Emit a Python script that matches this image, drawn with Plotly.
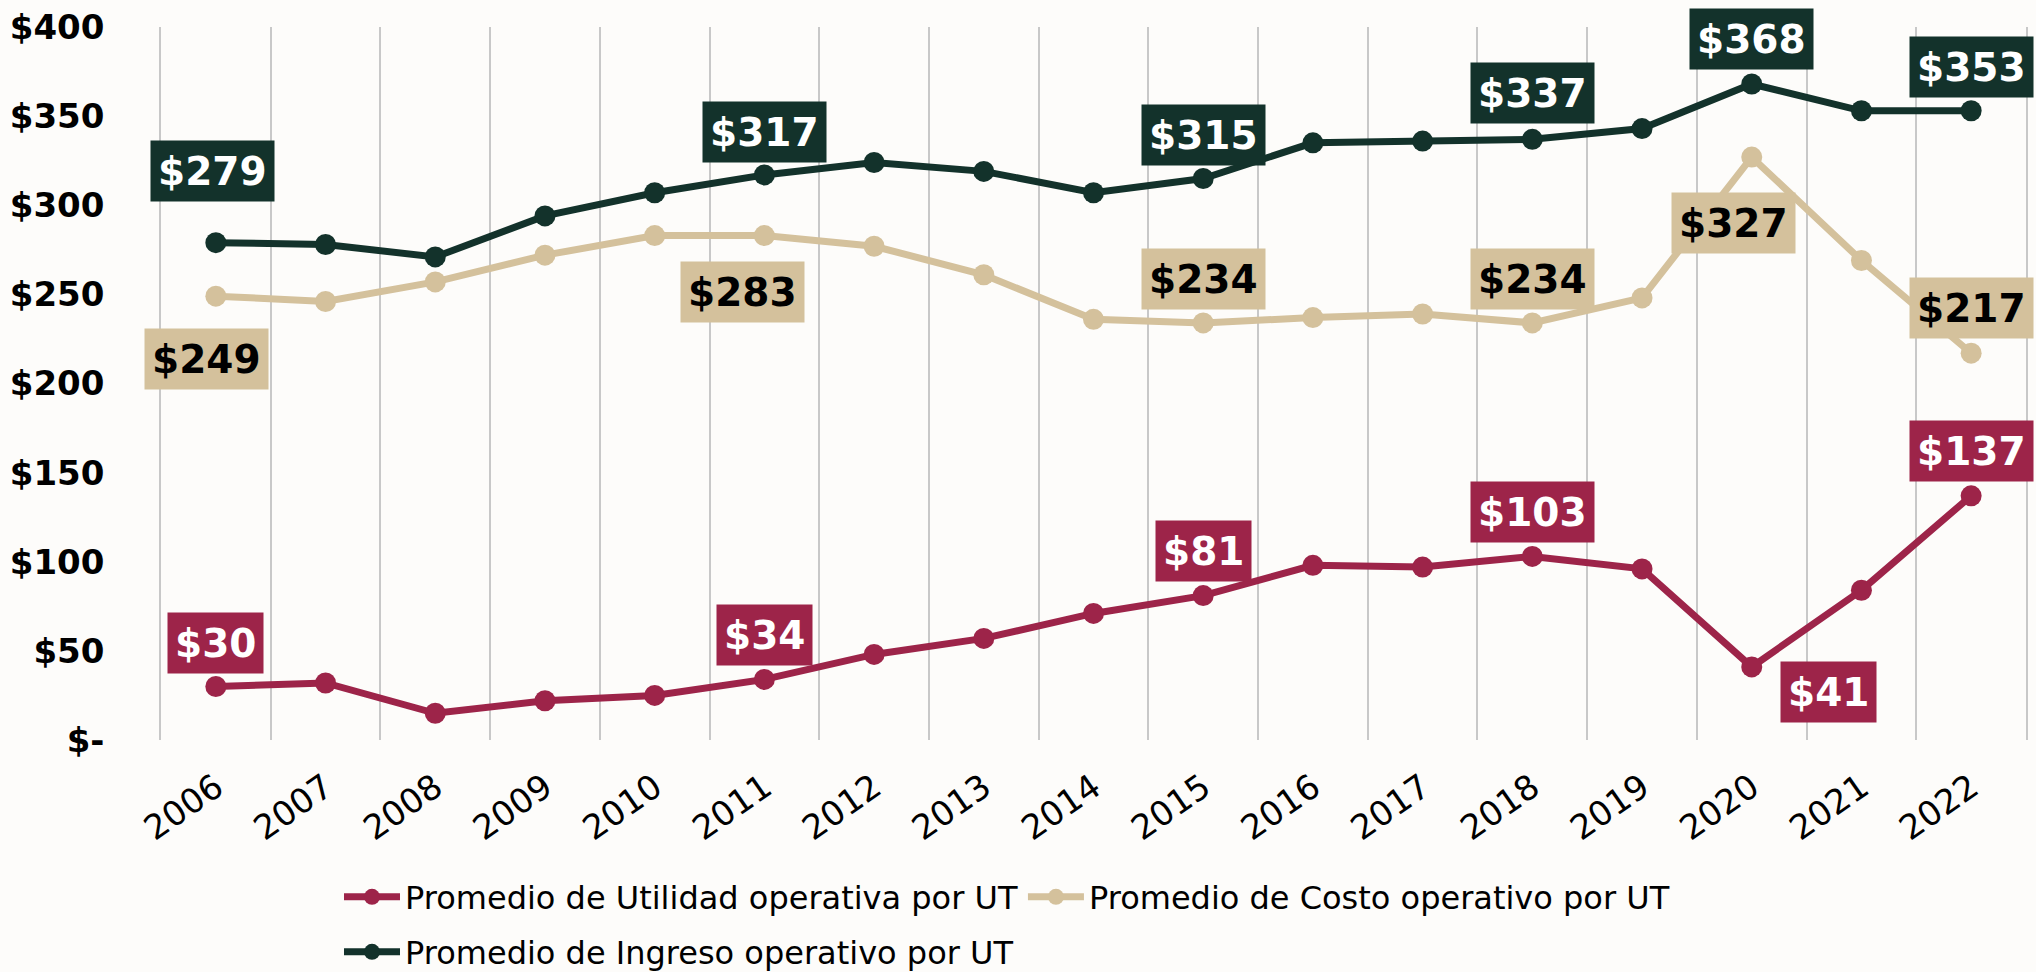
import plotly.graph_objects as go

years = [str(y) for y in range(2006, 2023)]
utilidad = [30, 32, 15, 22, 25, 34, 48, 57, 71, 81, 98, 97, 103, 96, 41, 84, 137]
costo = [249, 246, 257, 272, 283, 283, 277, 261, 236, 234, 237, 239, 234, 248, 327, 269, 217]
ingreso = [279, 278, 271, 294, 307, 317, 324, 319, 307, 315, 335, 336, 337, 343, 368, 353, 353]

y_ticks = [0, 50, 100, 150, 200, 250, 300, 350, 400]
y_ticktext = ["$-", "$50", "$100", "$150", "$200", "$250", "$300", "$350", "$400"]

names = ["Promedio de Utilidad operativa por UT",
         "Promedio de Costo operativo por UT",
         "Promedio de Ingreso operativo por UT"]
colors = ["#9D2449", "#D4C19C", "#13322B"]
label_font_colors = ["white", "black", "white"]

# labelled points: (series index, year, dx, dy) in screen px
label_points = [
    (2, "2006", -3, -72), (2, "2011", 0, -43), (2, "2015", 0, -44),
    (2, "2018", 0, -46), (2, "2020", 0, -45), (2, "2022", 0, -44),
    (1, "2006", -9, 63), (1, "2011", -22, 56), (1, "2015", 0, -44),
    (1, "2018", 0, -44), (1, "2020", -18, 66), (1, "2022", 0, -45),
    (0, "2006", 0, -44), (0, "2011", 0, -44), (0, "2015", 0, -45),
    (0, "2018", 0, -44), (0, "2020", 77, 25), (0, "2022", 0, -45),
]

series = [utilidad, costo, ingreso]

fig = go.Figure()
draw_order = [2, 1, 0]
for i in draw_order:
    fig.add_trace(go.Scatter(
        x=years, y=series[i], name=names[i], mode="lines+markers",
        line=dict(color=colors[i], width=7),
        marker=dict(color=colors[i], size=21),
        legend="legend" if i != 2 else "legend2",
        legendrank=i,
    ))

annotations = []
for (si, yr, dx, dy) in label_points:
    idx = years.index(yr)
    v = series[si][idx]
    annotations.append(dict(
        x=idx, y=v, xref="x", yref="y", text=f"${v}", showarrow=False,
        xshift=dx, yshift=-dy, height=46,
        font=dict(family="DejaVu Sans", size=39, color=label_font_colors[si], weight="bold"),
        bgcolor=colors[si], borderpad=7,
    ))

legend_common = dict(
    orientation="h", xref="container", yref="container",
    xanchor="left", yanchor="middle",
    font=dict(family="DejaVu Sans", size=32, color="black"),
    bgcolor="rgba(0,0,0,0)", itemwidth=56,
)

fig.update_layout(
    width=2036, height=972,
    margin=dict(l=161, r=10, t=27, b=232, autoexpand=False),
    paper_bgcolor="#fdfcfa", plot_bgcolor="rgba(0,0,0,0)",
    annotations=annotations,
    showlegend=True,
    legend=dict(legend_common, x=339 / 2036, y=1 - 897 / 972),
    legend2=dict(legend_common, x=339 / 2036, y=1 - 952 / 972),
    xaxis=dict(
        type="category", categoryorder="array", categoryarray=years,
        range=[-0.5, len(years) - 0.5], automargin=False,
        tickson="boundaries", showgrid=True,
        gridcolor="#c8c8c8", gridwidth=1.5, showline=False, zeroline=False,
        ticks="", tickangle=-35, ticklabelstandoff=20,
        tickfont=dict(family="DejaVu Sans", size=34, color="black"),
    ),
    yaxis=dict(
        range=[0, 400], tickvals=y_ticks, ticktext=y_ticktext, automargin=False,
        showgrid=False, zeroline=False, ticks="",
        showline=True, linecolor="#c8c8c8", linewidth=1.5, mirror=True,
        ticklabelstandoff=48,
        tickfont=dict(family="DejaVu Sans", size=34, color="black", weight="bold"),
    ),
)

fig.write_html("out.html", post_script="document.body.style.margin='0';",
               config={"displayModeBar": False})
